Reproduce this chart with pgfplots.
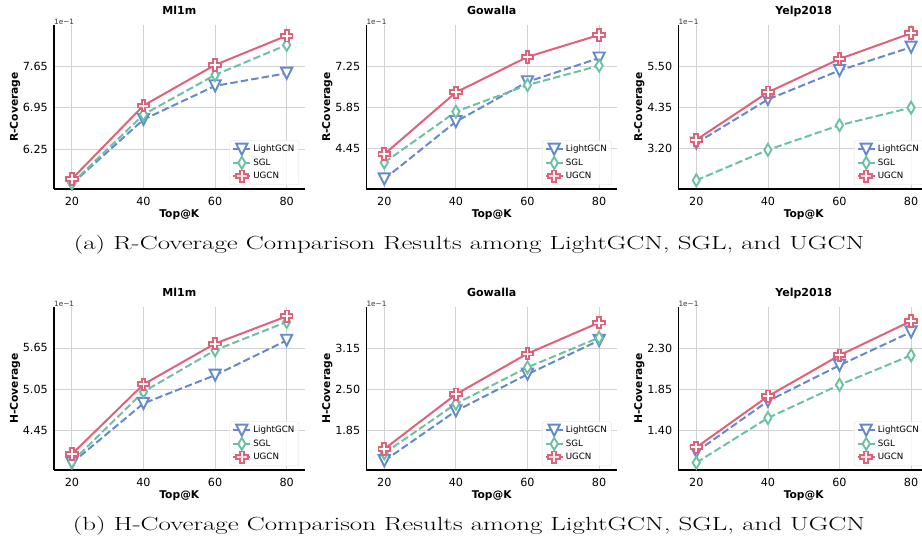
\documentclass[border=0pt]{standalone}
\usepackage{fontspec}
\usepackage{pgfplots}
\pgfplotsset{compat=1.18}
\newfontfamily\dejavu{DejaVu Sans}
\definecolor{cB}{RGB}{100,137,204}
\definecolor{cG}{RGB}{108,194,160}
\definecolor{cR}{RGB}{223,98,122}

\pgfdeclareplotmark{fplus}{%
  \pgfpathmoveto{\pgfqpoint{-0.3333\pgfplotmarksize}{-\pgfplotmarksize}}%
  \pgfpathlineto{\pgfqpoint{-0.3333\pgfplotmarksize}{-0.3333\pgfplotmarksize}}%
  \pgfpathlineto{\pgfqpoint{-\pgfplotmarksize}{-0.3333\pgfplotmarksize}}%
  \pgfpathlineto{\pgfqpoint{-\pgfplotmarksize}{0.3333\pgfplotmarksize}}%
  \pgfpathlineto{\pgfqpoint{-0.3333\pgfplotmarksize}{0.3333\pgfplotmarksize}}%
  \pgfpathlineto{\pgfqpoint{-0.3333\pgfplotmarksize}{\pgfplotmarksize}}%
  \pgfpathlineto{\pgfqpoint{0.3333\pgfplotmarksize}{\pgfplotmarksize}}%
  \pgfpathlineto{\pgfqpoint{0.3333\pgfplotmarksize}{0.3333\pgfplotmarksize}}%
  \pgfpathlineto{\pgfqpoint{\pgfplotmarksize}{0.3333\pgfplotmarksize}}%
  \pgfpathlineto{\pgfqpoint{\pgfplotmarksize}{-0.3333\pgfplotmarksize}}%
  \pgfpathlineto{\pgfqpoint{0.3333\pgfplotmarksize}{-0.3333\pgfplotmarksize}}%
  \pgfpathlineto{\pgfqpoint{0.3333\pgfplotmarksize}{-\pgfplotmarksize}}%
  \pgfpathclose
  \pgfusepathqfillstroke}
\pgfdeclareplotmark{dtri}{%
  \pgfpathmoveto{\pgfqpoint{-\pgfplotmarksize}{\pgfplotmarksize}}%
  \pgfpathlineto{\pgfqpoint{\pgfplotmarksize}{\pgfplotmarksize}}%
  \pgfpathlineto{\pgfqpoint{0pt}{-\pgfplotmarksize}}%
  \pgfpathclose
  \pgfusepathqfillstroke}
\pgfdeclareplotmark{tdiam}{%
  \pgfpathmoveto{\pgfqpoint{0pt}{\pgfplotmarksize}}%
  \pgfpathlineto{\pgfqpoint{0.6\pgfplotmarksize}{0pt}}%
  \pgfpathlineto{\pgfqpoint{0pt}{-\pgfplotmarksize}}%
  \pgfpathlineto{\pgfqpoint{-0.6\pgfplotmarksize}{0pt}}%
  \pgfpathclose
  \pgfusepathqfillstroke}

\pgfplotsset{
  cov/.style={
    scale only axis, width=250.6pt, height=164pt,
    xmin=15, xmax=85, xtick={20,40,60,80}, xticklabels={20,40,60,80},
    axis x line*=bottom, axis y line*=left,
    axis line style={line width=1.6pt, -},
    major tick length=0pt,
    grid=major, grid style={gray!35, line width=0.8pt},
    tick label style={font=\dejavu\fontsize{11.2}{13}\selectfont},
    xticklabel style={inner sep=0pt, yshift=-7.5pt},
    yticklabel style={inner sep=0pt, xshift=-6pt},
    label style={font=\dejavu\bfseries\fontsize{10.7}{12}\selectfont},
    xlabel={Top@K},
    xlabel style={at={(axis description cs:0.5,-0.159)}, anchor=center},
    ylabel style={at={(axis description cs:-0.1556,0.5)}, anchor=center},
    title style={font=\dejavu\bfseries\fontsize{11}{13}\selectfont, at={(axis description cs:0.5,1.025)}, anchor=base},
    legend cell align=left,
    legend style={at={(axis description cs:1,0)}, anchor=south east, xshift=-5.5pt, yshift=4pt,
      draw=gray!25, fill=white, fill opacity=0.8, text opacity=1, rounded corners=2pt,
      font=\dejavu\fontsize{8.7}{10}\selectfont, inner sep=2.5pt, row sep=1.5pt},
    clip=false,
  },
  lg/.style={cB, line width=2pt, dash pattern=on 7.4pt off 3.2pt, mark=dtri, mark size=5.6pt,
    mark options={solid, fill=white, line width=1.9pt}},
  sg/.style={cG, line width=2pt, dash pattern=on 7.4pt off 3.2pt, mark=tdiam, mark size=6pt,
    mark options={solid, fill=white, line width=1.9pt}},
  ug/.style={cR, line width=2pt, solid, mark=fplus, mark size=5.8pt,
    mark options={solid, fill=white, line width=1.9pt}},
}
\newcommand\expnote{\node[anchor=south west, inner sep=0pt, text=black!80, font=\dejavu\fontsize{7.3}{8}\selectfont] at (axis description cs:0,1) {1e−1};}

\begin{document}
\begin{tikzpicture}[x=1pt,y=1pt]
\useasboundingbox (0,0) rectangle (922,539);

% ---- Row 1: R-Coverage ----
\begin{axis}[cov, at={(54pt,350pt)}, anchor=south west, title={Ml1m}, ylabel={R-Coverage},
  ymin=5.572, ymax=8.357, ytick={6.25,6.95,7.65}, yticklabels={6.25,6.95,7.65}]
\addplot[lg] coordinates {(20,5.66) (40,6.752) (60,7.323) (80,7.538)};
\addplot[sg] coordinates {(20,5.669) (40,6.836) (60,7.509) (80,8.018)};
\addplot[ug] coordinates {(20,5.742) (40,6.989) (60,7.679) (80,8.175)};
\legend{LightGCN,SGL,UGCN}
\expnote
\end{axis}

\begin{axis}[cov, at={(366.4pt,350pt)}, anchor=south west, title={Gowalla}, ylabel={R-Coverage},
  ymin=3.06, ymax=8.66, ytick={4.45,5.85,7.25}, yticklabels={4.45,5.85,7.25}]
\addplot[lg] coordinates {(20,3.40) (40,5.36) (60,6.72) (80,7.53)};
\addplot[sg] coordinates {(20,3.965) (40,5.70) (60,6.61) (80,7.27)};
\addplot[ug] coordinates {(20,4.247) (40,6.36) (60,7.57) (80,8.32)};
\legend{LightGCN,SGL,UGCN}
\expnote
\end{axis}

\begin{axis}[cov, at={(678.4pt,350pt)}, anchor=south west, title={Yelp2018}, ylabel={R-Coverage},
  ymin=2.077, ymax=6.66, ytick={3.20,4.35,5.50}, yticklabels={3.20,4.35,5.50}]
\addplot[lg] coordinates {(20,3.36) (40,4.58) (60,5.39) (80,6.04)};
\addplot[sg] coordinates {(20,2.32) (40,3.17) (60,3.86) (80,4.35)};
\addplot[ug] coordinates {(20,3.45) (40,4.78) (60,5.71) (80,6.43)};
\legend{LightGCN,SGL,UGCN}
\expnote
\end{axis}

\node[anchor=base, font=\fontsize{19}{23}\selectfont, inner sep=0pt, xscale=1.416, transform shape] at (469,289) {(a) R-Coverage Comparison Results among LightGCN, SGL, and UGCN};

% ---- Row 2: H-Coverage ----
\begin{axis}[cov, height=163pt, at={(54pt,69pt)}, anchor=south west, title={Ml1m}, ylabel={H-Coverage},
  ymin=3.868, ymax=6.247, ytick={4.45,5.05,5.65}, yticklabels={4.45,5.05,5.65}]
\addplot[lg] coordinates {(20,3.97) (40,4.84) (60,5.252) (80,5.76)};
\addplot[sg] coordinates {(20,3.99) (40,5.01) (60,5.616) (80,6.029)};
\addplot[ug] coordinates {(20,4.10) (40,5.118) (60,5.713) (80,6.111)};
\legend{LightGCN,SGL,UGCN}
\expnote
\end{axis}

\begin{axis}[cov, height=163pt, at={(366.4pt,69pt)}, anchor=south west, title={Gowalla}, ylabel={H-Coverage},
  ymin=1.213, ymax=3.813, ytick={1.85,2.50,3.15}, yticklabels={1.85,2.50,3.15}]
\addplot[lg] coordinates {(20,1.36) (40,2.155) (60,2.74) (80,3.28)};
\addplot[sg] coordinates {(20,1.48) (40,2.27) (60,2.85) (80,3.325)};
\addplot[ug] coordinates {(20,1.548) (40,2.42) (60,3.07) (80,3.564)};
\legend{LightGCN,SGL,UGCN}
\expnote
\end{axis}

\begin{axis}[cov, height=163pt, at={(678.4pt,69pt)}, anchor=south west, title={Yelp2018}, ylabel={H-Coverage},
  ymin=0.959, ymax=2.76, ytick={1.40,1.85,2.30}, yticklabels={1.40,1.85,2.30}]
\addplot[lg] coordinates {(20,1.16) (40,1.72) (60,2.116) (80,2.484)};
\addplot[sg] coordinates {(20,1.04) (40,1.534) (60,1.90) (80,2.226)};
\addplot[ug] coordinates {(20,1.209) (40,1.773) (60,2.226) (80,2.605)};
\legend{LightGCN,SGL,UGCN}
\expnote
\end{axis}

\node[anchor=base, font=\fontsize{19}{23}\selectfont, inner sep=0pt, xscale=1.416, transform shape] at (469,9) {(b) H-Coverage Comparison Results among LightGCN, SGL, and UGCN};
\end{tikzpicture}
\end{document}
